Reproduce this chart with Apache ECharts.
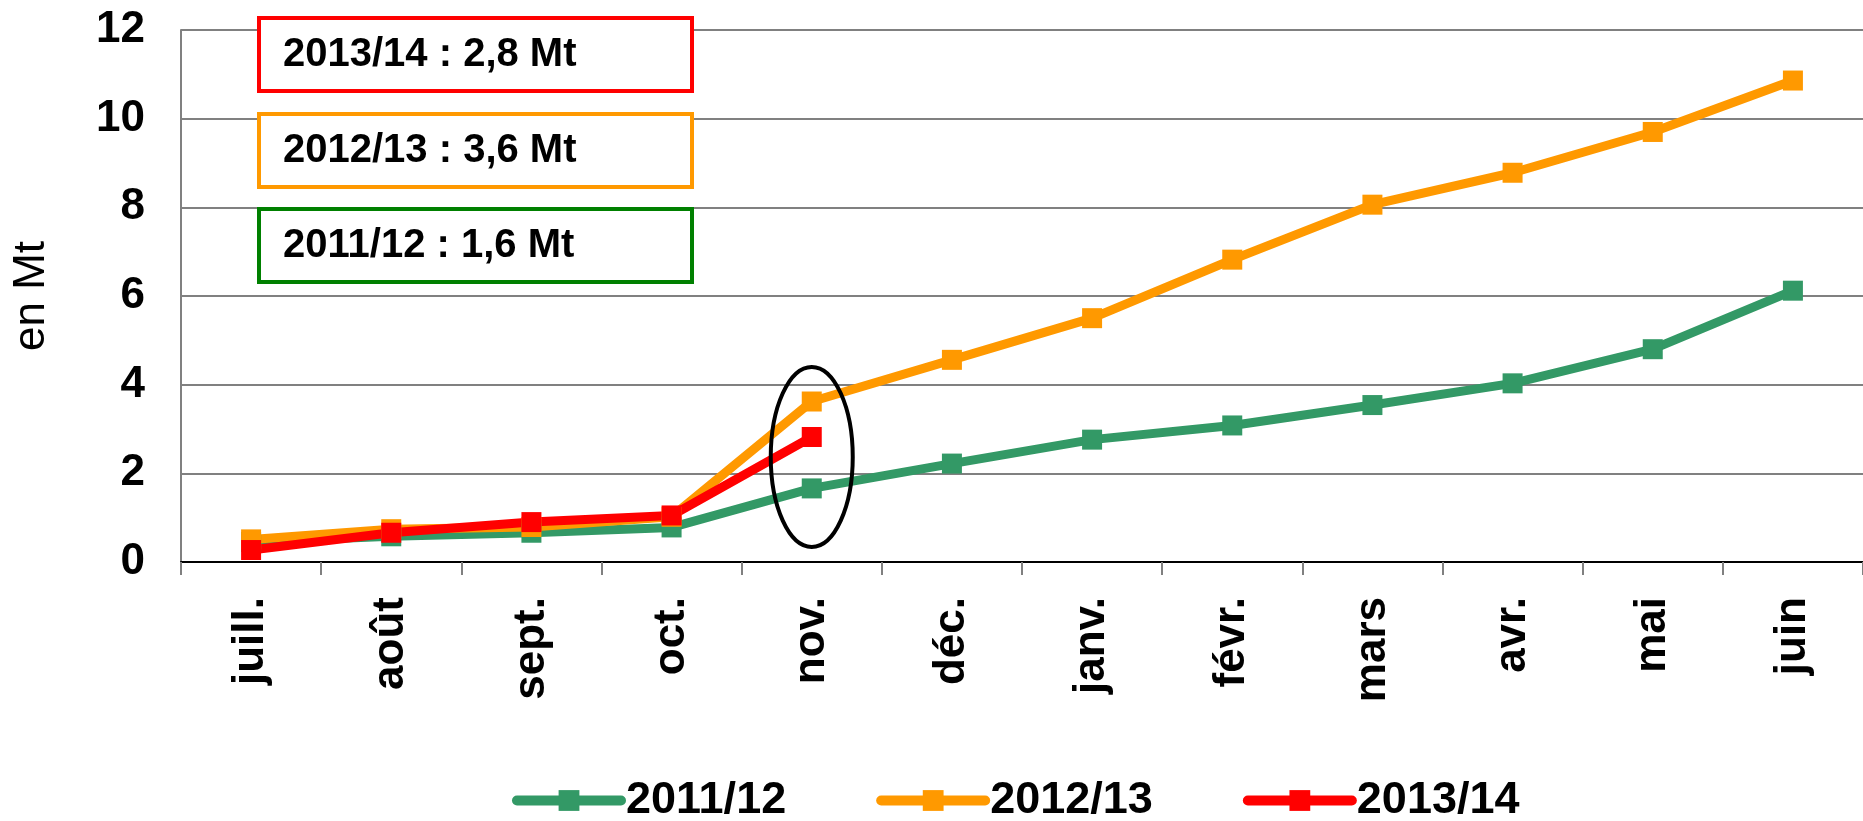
<!DOCTYPE html>
<html lang="fr">
<head>
    <meta charset="UTF-8">
    <title>Cumul en Mt</title>
    <script src="https://cdn.jsdelivr.net/npm/echarts@6/dist/echarts.min.js"></script>
    <style>
        html, body { margin: 0; padding: 0; background: #fff; }
        #chart { width: 1863px; height: 821px; }
    </style>
</head>
<body>
    <div id="chart"></div>
    <script>
        const months = ['juill.', 'août', 'sept.', 'oct.', 'nov.', 'déc.', 'janv.', 'févr.', 'mars', 'avr.', 'mai', 'juin'];
        const s2011 = [0.45, 0.58, 0.66, 0.78, 1.66, 2.22, 2.76, 3.08, 3.54, 4.03, 4.8, 6.12];
        const s2012 = [0.51, 0.74, 0.79, 1.02, 3.62, 4.56, 5.5, 6.82, 8.06, 8.78, 9.7, 10.86];
        const s2013 = [0.27, 0.66, 0.9, 1.05, 2.82];
        const notes = ['2013/14 : 2,8 Mt', '2012/13 : 3,6 Mt', '2011/12 : 1,6 Mt'];
        const yTicks = { min: 0, max: 12, interval: 2 };

        const FONT = '"Liberation Sans", Arial, sans-serif';
        const boxColors = ['#ff0000', '#ff9900', '#008000'];
        const boxTops = [18, 114, 209];

        const chart = echarts.init(document.getElementById('chart'));

        const graphics = [];
        notes.forEach(function (txt, i) {
            graphics.push({
                type: 'rect',
                shape: { x: 259, y: boxTops[i], width: 433, height: 73 },
                style: { fill: '#fff', stroke: boxColors[i], lineWidth: 4 },
                z: 10
            });
            graphics.push({
                type: 'text',
                style: {
                    text: txt, x: 283, y: boxTops[i] + 37,
                    font: 'bold 40px ' + FONT, fill: '#000',
                    verticalAlign: 'middle'
                },
                z: 11
            });
        });

        function line(name, data, color) {
            return {
                name: name,
                type: 'line',
                data: data,
                symbol: 'rect',
                symbolSize: 20,
                lineStyle: { width: 9, color: color },
                itemStyle: { color: color },
                animation: false
            };
        }

        chart.setOption({
            animation: false,
            textStyle: { fontFamily: FONT },
            grid: { left: 181, top: 30, width: 1686, bottom: 259 },
            legend: {
                left: 507,
                top: 773,
                itemWidth: 104,
                itemHeight: 26,
                itemGap: 90,
                lineStyle: { width: 10, cap: 'round' },
                textStyle: { fontSize: 45, fontWeight: 'bold', color: '#000', fontFamily: FONT },
                data: ['2011/12', '2012/13', '2013/14']
            },
            xAxis: {
                type: 'category',
                data: months,
                boundaryGap: true,
                axisLine: { lineStyle: { color: '#000', width: 2 } },
                axisTick: { show: true, length: 13, lineStyle: { color: '#808080', width: 2 } },
                axisLabel: {
                    rotate: 90, margin: 35, interval: 0,
                    fontSize: 44, fontWeight: 'bold', color: '#000', fontFamily: FONT
                }
            },
            yAxis: {
                type: 'value',
                min: yTicks.min, max: yTicks.max, interval: yTicks.interval,
                name: 'en Mt',
                nameLocation: 'middle',
                nameGap: 127,
                nameTextStyle: { fontSize: 44, color: '#000', fontFamily: FONT },
                axisLine: { show: true, lineStyle: { color: '#808080', width: 2 } },
                axisTick: { show: false },
                axisLabel: { margin: 36, fontSize: 44, fontWeight: 'bold', color: '#000', fontFamily: FONT },
                splitLine: { lineStyle: { color: '#808080', width: 2 } }
            },
            series: [
                line('2011/12', s2011, '#339966'),
                line('2012/13', s2012, '#ff9900'),
                line('2013/14', s2013, '#ff0000')
            ],
            graphic: { elements: graphics }
        });

        // ellipse around the november points
        const c = chart.convertToPixel({ seriesIndex: 0 }, ['nov.', 2.37]);
        graphics.push({
            type: 'ellipse',
            shape: { cx: c[0], cy: c[1], rx: 41, ry: 90 },
            style: { fill: null, stroke: '#000', lineWidth: 4 },
            z: 12
        });
        chart.setOption({ graphic: { elements: graphics } });
    </script>
</body>
</html>
